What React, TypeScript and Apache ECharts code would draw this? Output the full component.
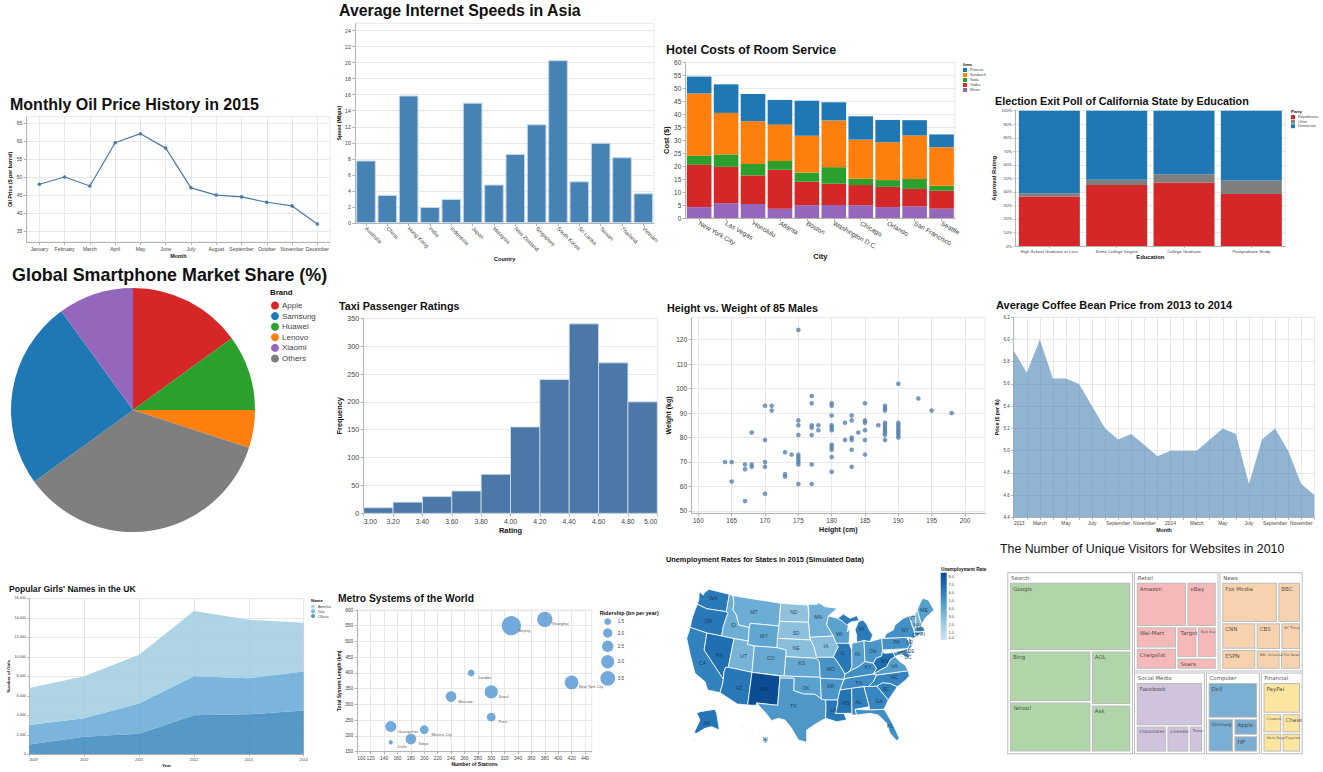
import React, { useEffect, useRef } from "react";
import * as echarts from "echarts";

/* ---------- data ---------- */
const oilMonths = ["January","February","March","April","May","June","July","August","September","October","November","December"];
const oilPrices = [48,50,47.5,59.5,62,58,47,45,44.5,43,42,37];
const oilTicks = [35,40,45,50,55,60,65];

const speedCountries = ["Australia","China","Hong Kong","India","Indonesia","Japan","Malaysia","New Zealand","Singapore","South Korea","Sri Lanka","Taiwan","Thailand","Vietnam"];
const speedValues = [7.8,3.5,15.9,2,3,15,4.8,8.6,12.3,20.3,5.2,10,8.2,3.7];
const speedTicks = [0,2,4,6,8,10,12,14,16,18,20,22,24];

const hotelCities = ["New York City","Las Vegas","Honolulu","Atlanta","Boston","Washington D.C.","Chicago","Orlando","San Francisco","Seattle"];
const hotelWater = [4.2,5.7,5.4,3.6,4.9,5,4.9,4.2,4.5,3.6];
const hotelVodka = [16.3,14,11,15,9.1,8.2,7.8,7.8,6.7,6.9];
const hotelSoda = [3.5,4.8,4.4,3.4,3.5,6.4,2.4,2.6,3.8,1.9];
const hotelSandwich = [24,16,16.5,14,14.2,18,15.1,14.6,16.8,14.9];
const hotelPeanuts = [6.5,11,10.5,9.5,13.5,7,9,8.6,5.9,4.9];
const hotelLegend = ["Peanuts","Sandwich","Soda","Vodka","Water"];

const pollEducation = ["High School Graduate or Less","Some College Degree","College Graduate","Postgraduate Study"];
const pollRepublicans = [36.5,45,47,38.5];
const pollOther = [2.5,4,6,10];
const pollDemocrats = [61,51,47,51.5];
const pollLegend = ["Republicans","Other","Democrats"];

const pieBrands = ["Apple","Huawei","Lenovo","Others","Samsung","Xiaomi"];
const pieShares = [15,10,5,35,25,10];
const pieColors = ["#d62728","#2ca02c","#ff7f0e","#7f7f7f","#1f77b4","#9467bd"];
const pieLegend = ["Apple","Samsung","Huawei","Lenovo","Xiaomi","Others"];

const taxiEdges = [3,3.2,3.4,3.6,3.8,4,4.2,4.4,4.6,4.8,5];
const taxiCounts = [10,20,30,40,70,155,240,340,270,200];

const maleHeights = [164,165,165,167,167,167,168,168,168,170,170,170,170,170,171,171,173,173,173,174,175,175,175,175,175,175,175,175,175,175,177,177,177,177,177,177,177,178,178,180,180,180,180,180,180,180,180,180,180,180,182,182,183,183,183,183,183,183,184,185,185,185,185,185,185,187,188,188,188,188,188,188,188,188,188,188,190,190,190,190,190,190,190,190,193,195,198];
const maleWeights = [70,70,62,69,67,54,69,68,82,93,79,70,68,57,93,91,74,65,64,73,124,87,85,81,73,72,71,70,69,61,97,94,85,84,81,69,61,85,83,94,93,89,85,84,83,77,76,75,72,66,86,79,89,87,80,79,75,68,82,94,87,86,83,79,73,85,93,92,91,86,85,84,83,82,81,79,102,86,85,84,83,82,81,80,96,91,90];

const coffeeMonths = ["2013","February","March","April","May","June","July","August","September","October","November","December","2014","February","March","April","May","June","July","August","September","October","November","December"];
const coffeePrices = [5.9,5.7,6,5.65,5.65,5.6,5.4,5.2,5.1,5.15,5.05,4.95,5,5,5,5.1,5.2,5.15,4.7,5.1,5.2,5,4.7,4.6];

const nameYears = ["2009","2010","2011","2012","2013","2014"];
const nameOlivia = [1000,1800,2100,4000,4100,4500];
const nameIsla = [2000,1900,3100,4000,3700,4000];
const nameAmelia = [3800,4300,5000,6700,6000,5000];
const nameLegend = ["Amelia","Isla","Olivia"];

const metroCities = ["Beijing","Shanghai","New York City","Seoul","Moscow","London","Paris","Mexico City","Guangzhou","Tokyo","Delhi"];
const metroStations = [330,380,420,300,240,270,300,200,150,180,150];
const metroLengths = [550,570,370,340,325,400,260,220,230,190,180];
const metroRiders = [5.3,3.7,3.2,3.0,2.3,1.5,1.86,1.85,2.4,2.3,1.19];
const metroLegendRiders = [1.5,2,2.5,3,3.5];
const metroXTicks = [100,120,140,160,180,200,220,240,260,280,300,320,340,360,380,400,420,440];

const stateCodes = ["AK","AL","AR","AZ","CA","CO","CT","DC","DE","FL","GA","HI","IA","ID","IL","IN","KS","KY","LA","MA","MD","ME","MI","MN","MO","MS","MT","NC","ND","NE","NH","NJ","NM","NV","NY","OH","OK","OR","PA","RI","SC","SD","TN","TX","UT","VA","VT","WA","WI","WV","WY"];
const stateRates = [6.5,6,4.9,6.4,5.9,3.9,5.3,6.5,4.6,5.3,5.7,3.5,2.7,3.6,6.4,4.4,3.9,5.3,6.4,4.8,5,4.4,6.2,3.5,5,6.6,3.7,5.8,2.5,2.7,3,6,8.4,6.8,5.2,4.9,4.3,6.4,5.2,6,6,2.6,5.4,4.8,3.3,4.5,3.4,6.3,4.3,6.9,4.1];
const rateTicks = [8,7,6,5,4,3,2,1,0];

const searchSites = ["Google","Bing","Yahoo!","AOL","Ask"];
const searchVisits = [70500,35200,34900,18200,16000];
const retailSites = ["Amazon","eBay","Wal-Mart","Craigslist","Target","Best Buy","Sears"];
const retailVisits = [18200,10700,7030,7010,5100,4840,3780];
const newsSites = ["Fox Media","BBC","CNN","ESPN","CBS","NY Times","NBC Universal","Fox News"];
const newsVisits = [18000,7400,7300,5500,5300,4300,3800,3200];
const socialSites = ["Facebook","Classmates","LinkedIn","Twitter"];
const socialVisits = [24640,6860,4990,3120];
const computerSites = ["Dell","Samsung","Apple","HP"];
const computerVisits = [13400,6500,3070,3010];
const financialSites = ["PayPal","Citybank","Chase","Wells Fargo","Experian"];
const financialVisits = [9690,3040,3020,3010,2970];
const groupTotals = [202566,74800,73670,52000,39754,31000];

/* ---------- map shapes, in the frame of a 960 x 666 canvas ---------- */
const stateShapes: Record<string, [number, number, string[]]> = {
  WA: [160,145,["118,125 130,135 133,128 147,118 208,133 199,185 165,180 140,176 112,163 116,150"]],
  OR: [145,213,["112,163 140,176 165,180 199,185 204,190 198,205 190,230 185,258 140,249 91,232 95,210 105,180"]],
  ID: [220,225,["208,133 219,137 222,160 219,180 228,192 237,225 268,232 265,273 222,266 185,258 190,230 198,205 204,190 199,185"]],
  MT: [282,186,["219,137 362,160 358,214 357,228 271,220 268,232 237,225 228,192 219,180 222,160"]],
  WY: [312,258,["271,220 357,228 351,293 283,288 262,283 265,273 268,232"]],
  ND: [401,186,["362,160 443,165 447,195 445,217 358,214"]],
  SD: [408,250,["358,214 445,217 447,228 449,262 452,270 352,265 357,228"]],
  NE: [408,295,["352,265 452,270 462,290 470,322 470,325 377,320 378,300 351,293"]],
  KS: [425,340,["377,320 470,325 478,335 481,382 372,378"]],
  NV: [178,315,["140,249 185,258 222,266 205,352 197,352 192,365 190,388 132,300"]],
  CA: [128,340,["91,232 140,249 132,300 190,388 187,405 180,428 143,420 135,395 105,370 92,320 80,265"]],
  UT: [251,318,["222,266 265,273 262,283 283,288 276,367 205,352"]],
  CO: [332,325,["283,288 351,293 378,300 377,320 372,378 276,367"]],
  AZ: [237,413,["205,352 276,367 263,465 232,462 180,428 187,405 190,388 192,365 197,352"]],
  NM: [313,417,["276,367 360,378 353,466 290,459 288,466 263,465"]],
  OK: [437,413,["360,378 372,378 481,382 484,447 465,433 430,432 401,422 402,385 360,384"]],
  TX: [400,467,["360,384 402,385 401,422 430,432 465,433 484,447 497,450 498,470 497,505 470,520 440,540 440,577 415,570 395,535 375,510 355,505 335,512 318,490 290,459 353,466"]],
  MN: [475,200,["445,163 472,163 474,157 495,170 532,175 505,198 500,225 520,258 452,262 449,262 447,228 445,217 447,195"]],
  IA: [498,288,["449,262 520,258 528,280 535,290 525,310 520,322 470,322 462,290 452,270"]],
  MO: [512,358,["470,322 520,322 525,325 545,355 555,372 552,388 481,385 478,335 470,325"]],
  AR: [512,408,["481,385 552,388 540,420 533,450 497,450 484,447"]],
  LA: [520,480,["497,450 533,450 533,462 527,490 552,490 560,510 530,515 497,505 498,470"]],
  WI: [538,252,["505,198 533,205 545,212 565,225 562,245 570,238 567,280 528,280 520,258 500,225"]],
  IL: [548,308,["528,280 567,280 575,300 576,350 568,365 555,372 545,355 525,325 520,322 525,310 535,290"]],
  MI: [605,238,["595,215 608,210 620,222 628,240 638,255 630,275 612,272 590,278 590,255 585,240","533,205 550,192 570,205 590,197 598,212 575,215 560,225 545,212"]],
  IN: [592,312,["576,280 612,272 615,335 595,350 580,358 568,365 576,350 575,300"]],
  OH: [638,302,["612,272 630,275 665,265 668,300 665,318 648,325 640,340 615,335"]],
  KY: [624,352,["555,372 568,365 580,358 595,350 615,335 640,340 650,355 640,372 560,385 552,388"]],
  TN: [596,398,["552,388 560,385 640,372 650,375 640,395 625,410 612,410 575,415 540,420"]],
  MS: [558,458,["540,420 575,415 576,490 552,490 527,490 533,462 533,450"]],
  AL: [596,456,["575,415 612,410 628,470 585,478 590,495 576,495 576,490"]],
  GA: [657,452,["612,410 650,408 685,450 672,478 628,480 628,470"]],
  FL: [690,527,["585,478 628,480 672,478 680,490 700,525 718,565 710,572 690,550 680,520 655,495 630,490 590,495"]],
  SC: [678,417,["650,408 668,398 690,400 712,410 685,450"]],
  NC: [703,380,["650,375 745,362 748,378 735,392 712,410 690,400 668,398 650,408 625,410 640,395"]],
  VA: [703,347,["640,372 660,360 680,350 690,330 705,320 720,335 735,345 745,362 650,375"]],
  WV: [675,332,["650,355 640,340 648,325 665,318 668,300 672,310 700,308 705,320 690,330 680,350 660,360 640,372"]],
  PA: [710,277,["665,265 672,265 740,262 750,285 742,296 668,300"]],
  NY: [735,240,["672,265 680,250 700,240 705,225 730,205 748,198 756,225 762,240 765,258 785,248 760,265 745,262 740,262"]],
  VT: [757,204,["748,198 765,193 768,232 762,237 756,225"]],
  NH: [772,224,["765,193 772,180 785,225 768,232"]],
  ME: [792,181,["780,160 788,145 805,150 822,180 795,205 785,225 772,180"]],
  MA: [781,238,["762,237 768,232 785,228 795,242 782,246 763,246"]],
  RI: [788,252,["782,246 788,246 788,255 782,253"]],
  CT: [767,254,["763,246 782,246 782,253 765,260"]],
  NJ: [749,276,["745,262 755,270 755,290 748,298 742,296 750,285"]],
  DE: [753,302,["742,296 748,298 752,312 745,312"]],
  MD: [725,310,["700,308 742,296 745,312 752,312 745,325 735,320 725,310 705,320"]],
  DC: [745,322,["722,318 726,318 726,322 722,322"]],
  AK: [140,518,["120,485 165,478 170,490 178,540 155,530 135,535 110,550 102,548 120,510 110,490","95,572 105,568 104,572","245,525 250,527 248,530"]],
  HI: [316,566,["310,560 320,565 322,578 312,580","272,537 278,540 275,543","298,550 302,552 300,555"]],
};

/* ---------- helpers ---------- */
const SANS = "Liberation Sans";
const gridColor = "#e8e8e8";
const axisColor = "#b4b4b4";
const m = (a: any, b: any) => echarts.util.merge(a, b, true);

const grid = (l: number, t: number, r: number, b: number) => ({
  left: l, top: t, width: r - l, height: b - t, show: true, borderColor: gridColor, borderWidth: 1,
});
const axis = (gridIndex: number, font: number, tick: number, name: string, gap: number, nameSize: number) => ({
  gridIndex, name, nameLocation: "middle", nameGap: gap,
  nameTextStyle: { fontSize: nameSize, fontWeight: "bold", color: "#111" },
  axisLine: { show: true, onZero: false, lineStyle: { color: axisColor, width: 1 } },
  axisTick: { show: true, length: tick, lineStyle: { color: axisColor } },
  axisLabel: { fontSize: font, color: "#444", margin: tick + 1.5, hideOverlap: false },
  splitLine: { show: false, lineStyle: { color: gridColor, width: 1 } },
});
const head = (text: string, x: number, base: number, size: number, weight = "bold") => ({
  text, left: x, top: base - size * 0.92, padding: 0,
  textStyle: { fontSize: size, fontWeight: weight, color: "#111", fontFamily: SANS },
});
const legend = (names: string[], left: number, top: number, size: number, gap: number, font: number, icon: string) => ({
  data: names, left, top, orient: "vertical", padding: 0, icon, itemWidth: size, itemHeight: size, itemGap: gap,
  selectedMode: false, textStyle: { fontSize: font, color: "#444", padding: [0, 0, 0, -2] },
});
const gText = (text: string, x: number, y: number, size: number, weight = "normal", fill = "#111") => ({
  type: "text", x, y, silent: true,
  style: { text, fontSize: size, fontWeight: weight, fill, fontFamily: SANS, verticalAlign: "middle", align: "left" },
});
const metroSize = (r: number) => Math.sqrt(Math.max(85.5 * r - 83, 4));

const usaGeo = {
  type: "FeatureCollection",
  features: Object.keys(stateShapes).map((code) => {
    const [cx, cy, rings] = stateShapes[code];
    return {
      type: "Feature",
      properties: { name: code, cp: [cx, -cy] },
      geometry: {
        type: "MultiPolygon",
        coordinates: rings.map((ring) => {
          const pts = ring.split(" ").map((p) => { const [x, y] = p.split(",").map(Number); return [x, -y]; });
          return [[...pts, pts[0]]];
        }),
      },
    };
  }),
};

const tinyLabels = ["Best Buy","NBC Universal","Fox News","NY Times","Twitter","Wells Fargo","Citybank","Experian"];
const midLabels = ["Classmates","LinkedIn","Samsung"];
const treeGroup = (name: string, total: number, sites: string[], visits: number[], color: string) => ({
  name: name + " ",
  value: total,
  children: [{
    name,
    value: total,
    itemStyle: { borderColor: "#fff" },
    children: sites.map((s, i) => ({
      name: s, value: visits[i], itemStyle: { color },
      label: { fontSize: tinyLabels.includes(s) ? 3.3 : midLabels.includes(s) ? 4.3 : 5.5 },
    })),
  }],
});

function buildOption() {
  const series: any[] = [];
  /* oil */
  series.push({ type: "line", xAxisIndex: 0, yAxisIndex: 0, data: oilPrices, symbol: "circle", symbolSize: 3.5,
    lineStyle: { color: "#4c78a8", width: 1.2 }, itemStyle: { color: "#4c78a8" } });
  /* internet */
  series.push({ type: "bar", xAxisIndex: 1, yAxisIndex: 1, data: speedValues, barWidth: 19.6,
    itemStyle: { color: "#4682b4", borderColor: "#c3d7e9", borderWidth: 1 } });
  /* hotel */
  [["Water", hotelWater, "#9467bd"], ["Vodka", hotelVodka, "#d62728"], ["Soda", hotelSoda, "#2ca02c"], ["Sandwich", hotelSandwich, "#ff7f0e"], ["Peanuts", hotelPeanuts, "#1f77b4"]].forEach(([n, d, c]: any) =>
    series.push({ type: "bar", name: n, stack: "hotel", xAxisIndex: 2, yAxisIndex: 2, data: d, barWidth: 24.6, itemStyle: { color: c } }));
  /* poll */
  [["Republicans", pollRepublicans, "#d62728"], ["Other", pollOther, "#7f7f7f"], ["Democrats", pollDemocrats, "#1f77b4"]].forEach(([n, d, c]: any) =>
    series.push({ type: "bar", name: n, stack: "poll", xAxisIndex: 3, yAxisIndex: 3, data: d, barWidth: 61, itemStyle: { color: c } }));
  /* pie */
  series.push({ type: "pie", center: [133, 410], radius: [0, 122], startAngle: 90, label: { show: false }, labelLine: { show: false }, silent: true,
    data: pieBrands.map((n, i) => ({ name: n, value: pieShares[i], itemStyle: { color: pieColors[i] } })) });
  /* taxi */
  series.push({ type: "custom", xAxisIndex: 4, yAxisIndex: 4,
    data: taxiCounts.map((c, i) => [taxiEdges[i], taxiEdges[i + 1], c]),
    encode: { x: [0, 1], y: 2 },
    renderItem: (_: any, api: any) => {
      const a = api.coord([api.value(0), api.value(2)]);
      const b = api.coord([api.value(1), 0]);
      return { type: "rect", shape: { x: a[0], y: a[1], width: b[0] - a[0], height: b[1] - a[1] },
        style: { fill: "#4c78a8", stroke: "#d7e2ee", lineWidth: 0.8 } };
    } });
  /* height-weight */
  series.push({ type: "scatter", xAxisIndex: 5, yAxisIndex: 5, data: maleHeights.map((h, i) => [h, maleWeights[i]]), symbolSize: 4.6,
    itemStyle: { color: "#4c78a8", opacity: 0.75 } });
  /* coffee */
  series.push({ type: "line", xAxisIndex: 6, yAxisIndex: 6, data: coffeePrices, symbol: "none", lineStyle: { width: 0 },
    areaStyle: { color: "#4682b4", opacity: 0.6 } });
  /* names */
  [["Olivia", nameOlivia, "#3182bd"], ["Isla", nameIsla, "#5fa5d3"], ["Amelia", nameAmelia, "#9ecae1"]].forEach(([n, d, c]: any) =>
    series.push({ type: "line", name: n, stack: "names", xAxisIndex: 7, yAxisIndex: 7, data: d, symbol: "none", lineStyle: { width: 0 },
      itemStyle: { color: c, opacity: 0.82 }, areaStyle: { color: c, opacity: 0.82 } }));
  /* metro */
  series.push({ type: "scatter", xAxisIndex: 8, yAxisIndex: 8,
    data: metroCities.map((n, i) => ({ name: n, value: [metroStations[i], metroLengths[i], metroRiders[i]] })),
    symbolSize: (v: number[]) => metroSize(v[2]),
    itemStyle: { color: "#5b9bd5", opacity: 0.85 },
    label: { show: true, formatter: "{b}", position: "inside", align: "left", verticalAlign: "middle", offset: [7.3, 4.5], fontSize: 3.9, color: "#333" } });
  /* map */
  const mapIndex = series.length;
  series.push({ type: "map", map: "usa", aspectScale: 1, left: 660, top: 550, width: 320, height: 222, roam: false, silent: true,
    showLegendSymbol: false,
    boundingCoords: [[0, 0], [960, -666]],
    data: stateCodes.map((c, i) => ({ name: c, value: stateRates[i] })),
    label: { show: true, fontSize: 5.2, color: "rgba(20,40,60,0.8)" },
    itemStyle: { borderColor: "#fff", borderWidth: 0.8, areaColor: "#ddd" },
    emphasis: { disabled: true } });
  /* treemap */
  series.push({ type: "treemap", left: 1007.3, top: 572.3, width: 295.4, height: 182, roam: false, nodeClick: false,
    squareRatio: 1,
    breadcrumb: { show: false }, silent: true, visibleMin: 0,
    label: { show: true, position: "insideTopLeft", distance: 0, padding: [2, 0, 0, 2], color: "rgba(40,40,40,0.8)", fontFamily: "DejaVu Sans", overflow: "none", fontSize: 5.5 },
    levels: [
      { itemStyle: { borderWidth: 0, gapWidth: 1, borderColor: "#fff" } },
      { itemStyle: { borderWidth: 1, gapWidth: 0, borderColor: "#bdbdbd" }, upperLabel: { show: false } },
      { itemStyle: { borderWidth: 1.7, gapWidth: 1.4, borderColor: "#fff" },
        upperLabel: { show: true, height: 9.5, color: "#555", fontSize: 5.4, fontFamily: "DejaVu Sans", padding: [0, 0, 0, 1] } },
      { itemStyle: { borderWidth: 1, gapWidth: 0, borderColor: "#bdbdbd" } },
    ],
    data: [
      treeGroup("Search", groupTotals[0], searchSites, searchVisits, "#b0d5a8"),
      treeGroup("Retail", groupTotals[1], retailSites, retailVisits, "#f5b9b9"),
      treeGroup("News", groupTotals[2], newsSites, newsVisits, "#f7d2ae"),
      treeGroup("Social Media", groupTotals[3], socialSites, socialVisits, "#cfc4dc"),
      treeGroup("Computer", groupTotals[4], computerSites, computerVisits, "#7aaed2"),
      treeGroup("Financial", groupTotals[5], financialSites, financialVisits, "#fbe5a0"),
    ] });

  const mapColors = ["#cfe1f2","#bed8ec","#a8cee5","#8fc1de","#74b2d7","#5ba3cf","#4592c6","#3181bd","#206fb2","#125ca4","#0a4a90"];
  const graphicEls: any[] = [
    gText("Item", 963, 64.5, 4.4, "bold"),
    gText("Party", 1291, 111.7, 4.4, "bold"),
    gText("Brand", 270, 292.5, 7.8, "bold"),
    gText("Name", 311, 600.7, 4.4, "bold"),
    gText("Ridership (bn per year)", 599.7, 613, 5.4, "bold"),
    gText("Unemployment Rate", 941, 569, 4.7, "bold"),
    { type: "rect", silent: true, shape: { x: 940.7, y: 572.7, width: 6, height: 67.3 },
      style: { fill: new echarts.graphic.LinearGradient(0, 1, 0, 0, mapColors.map((c, i) => ({ offset: i / (mapColors.length - 1), color: c }))) } },
  ];
  rateTicks.forEach((v) => graphicEls.push(gText(v.toFixed(1), 948.5, Math.min(640 - v * 7.9, 637.3), 3.9, "normal", "#444")));
  const bubbleY = [621.7, 633, 646.3, 661.7, 678.3];
  metroLegendRiders.forEach((r, i) => {
    graphicEls.push({ type: "circle", silent: true, shape: { cx: 607.7, cy: bubbleY[i], r: metroSize(r) / 2 }, style: { fill: "#5b9bd5", opacity: 0.85 } });
    graphicEls.push(gText(r.toFixed(1), 617.7, bubbleY[i], 4.6, "normal", "#444"));
  });

  return {
    animation: false,
    backgroundColor: "#fff",
    textStyle: { fontFamily: SANS },
    title: [
      head("Monthly Oil Price History in 2015", 10, 111, 16),
      head("Average Internet Speeds in Asia", 339, 17.5, 15.9),
      head("Hotel Costs of Room Service", 666, 55, 12.4),
      head("Election Exit Poll of California State by Education", 995, 105, 10.8),
      head("Global Smartphone Market Share (%)", 12, 282, 17.9),
      head("Taxi Passenger Ratings", 339, 310, 10.75),
      head("Height vs. Weight of 85 Males", 667, 312.7, 10.75),
      head("Average Coffee Bean Price from 2013 to 2014", 996, 310, 11),
      head("Popular Girls' Names in the UK", 9, 592.7, 8.6),
      head("Metro Systems of the World", 338, 603, 10.3),
      head("Unemployment Rates for States in 2015 (Simulated Data)", 666, 563, 7.35),
      head("The Number of Unique Visitors for Websites in 2010", 1000, 554, 12.35, "normal"),
    ],
    legend: [
      legend(hotelLegend, 963, 68, 4, 1, 3.7, "rect"),
      legend(pollLegend, 1291, 115, 4, 0.6, 3.7, "rect"),
      legend(pieLegend, 271, 301.5, 8, 2.6, 8, "circle"),
      legend(nameLegend, 311, 604.5, 4, 0.8, 4.2, "circle"),
    ],
    grid: [
      grid(26.7, 116.7, 330, 242),
      grid(355.3, 23.3, 654, 223),
      grid(685.7, 62.3, 955, 218),
      grid(1015.7, 110.7, 1285, 246),
      grid(363.7, 318.3, 657.3, 513.3),
      grid(691.7, 317.7, 985, 513.3),
      grid(1013.7, 317.3, 1314.3, 517.3),
      grid(29.3, 598.3, 303.7, 754.3),
      grid(357.3, 610, 591.7, 751.7),
    ],
    xAxis: [
      m(axis(0, 5, 3, "Month", 11.5, 5.4), { type: "category", data: oilMonths, axisTick: { alignWithLabel: true }, axisLabel: { interval: 0 },
        splitLine: { show: true, interval: 0, alignWithLabel: true } }),
      m(axis(1, 5.5, 3, "Country", 26, 5.5), { type: "category", data: speedCountries, axisTick: { alignWithLabel: true }, axisLabel: { interval: 0, rotate: -45 } }),
      m(axis(2, 6.6, 3, "City", 31, 7.4), { type: "category", data: hotelCities, axisTick: { alignWithLabel: true }, axisLabel: { interval: 0, rotate: -30 } }),
      m(axis(3, 4.3, 2, "Education", 7.5, 5.8), { type: "category", data: pollEducation, axisTick: { alignWithLabel: true }, axisLabel: { interval: 0, margin: 3 } }),
      m(axis(4, 6.8, 3, "Rating", 14, 7.4), { type: "value", min: 3, max: 5, interval: 0.2, axisLabel: { formatter: (v: number) => v.toFixed(2), alignMinLabel: "left", alignMaxLabel: "right" } }),
      m(axis(5, 6.4, 3, "Height (cm)", 13, 7), { type: "value", min: 159, max: 203, axisTick: { customValues: [160,165,170,175,180,185,190,195,200] }, axisLabel: { customValues: [160,165,170,175,180,185,190,195,200] },
        splitLine: { show: true } }),
      m(axis(6, 4.9, 2.5, "Month", 10, 5.2), { type: "category", boundaryGap: false, data: coffeeMonths, axisTick: { interval: 0 }, axisLabel: { interval: 1, alignMinLabel: "left" },
        splitLine: { show: true, interval: 0 } }),
      m(axis(7, 3.7, 2, "Year", 9, 4.3), { type: "category", boundaryGap: false, data: nameYears, axisLabel: { interval: 0, showMaxLabel: false, alignMinLabel: "left" },
        splitLine: { show: true, interval: 0 } }),
      m(axis(8, 4.9, 2.5, "Number of Stations", 9, 5), { type: "value", min: 100, max: 450, axisTick: { customValues: metroXTicks }, axisLabel: { customValues: metroXTicks, alignMinLabel: "left" }, splitLine: { show: true } }),
    ],
    yAxis: [
      m(axis(0, 5, 3, "Oil Price ($ per barrel)", 7.5, 5.3), { type: "value", min: 32, max: 66.7, axisTick: { customValues: oilTicks }, axisLabel: { customValues: oilTicks }, splitLine: { show: true } }),
      m(axis(1, 5.2, 3, "Speed (Mbps)", 9, 5.3), { type: "value", min: 0, max: 24.9, axisTick: { customValues: speedTicks }, axisLabel: { customValues: speedTicks }, splitLine: { show: true } }),
      m(axis(2, 6.4, 3, "Cost ($)", 10.5, 7.4), { type: "value", min: 0, max: 60, interval: 5, splitLine: { show: true } }),
      m(axis(3, 4.3, 2, "Approval Rating", 11, 5.8), { type: "value", min: 0, max: 100, interval: 10, axisLabel: { formatter: "{value}%" }, splitLine: { show: true } }),
      m(axis(4, 7.2, 3, "Frequency", 12, 7.4), { type: "value", min: 0, max: 350, interval: 50, splitLine: { show: true } }),
      m(axis(5, 6.6, 3, "Weight (kg)", 13, 7), { type: "value", min: 49, max: 129, axisTick: { customValues: [50,60,70,80,90,100,110,120] }, axisLabel: { customValues: [50,60,70,80,90,100,110,120] }, splitLine: { show: true } }),
      m(axis(6, 4.5, 2.5, "Price ($ per lb)", 10.5, 5.2), { type: "value", min: 4.4, max: 6.2, interval: 0.2, axisLabel: { formatter: (v: number) => v.toFixed(1) }, splitLine: { show: true } }),
      m(axis(7, 3.7, 2, "Number of Girls", 13, 4.3), { type: "value", min: 0, max: 16000, interval: 2000, axisLabel: { formatter: (v: number) => v.toLocaleString("en-US") }, splitLine: { show: true } }),
      m(axis(8, 4.9, 2.5, "Total System Length (km)", 11, 5), { type: "value", min: 150, max: 600, interval: 50, splitLine: { show: true } }),
    ],
    visualMap: { show: false, seriesIndex: [mapIndex], min: 0, max: 8.5, inRange: { color: mapColors } },
    graphic: { elements: graphicEls },
    series,
  };
}

export default function App() {
  const ref = useRef<HTMLDivElement>(null);
  useEffect(() => {
    echarts.registerMap("usa", usaGeo as any);
    const chart = echarts.init(ref.current!, undefined, { renderer: "svg" });
    chart.setOption(buildOption() as any);
    return () => chart.dispose();
  }, []);
  return <div ref={ref} style={{ position: "absolute", left: 0, top: 0, width: 1323, height: 772 }} />;
}
